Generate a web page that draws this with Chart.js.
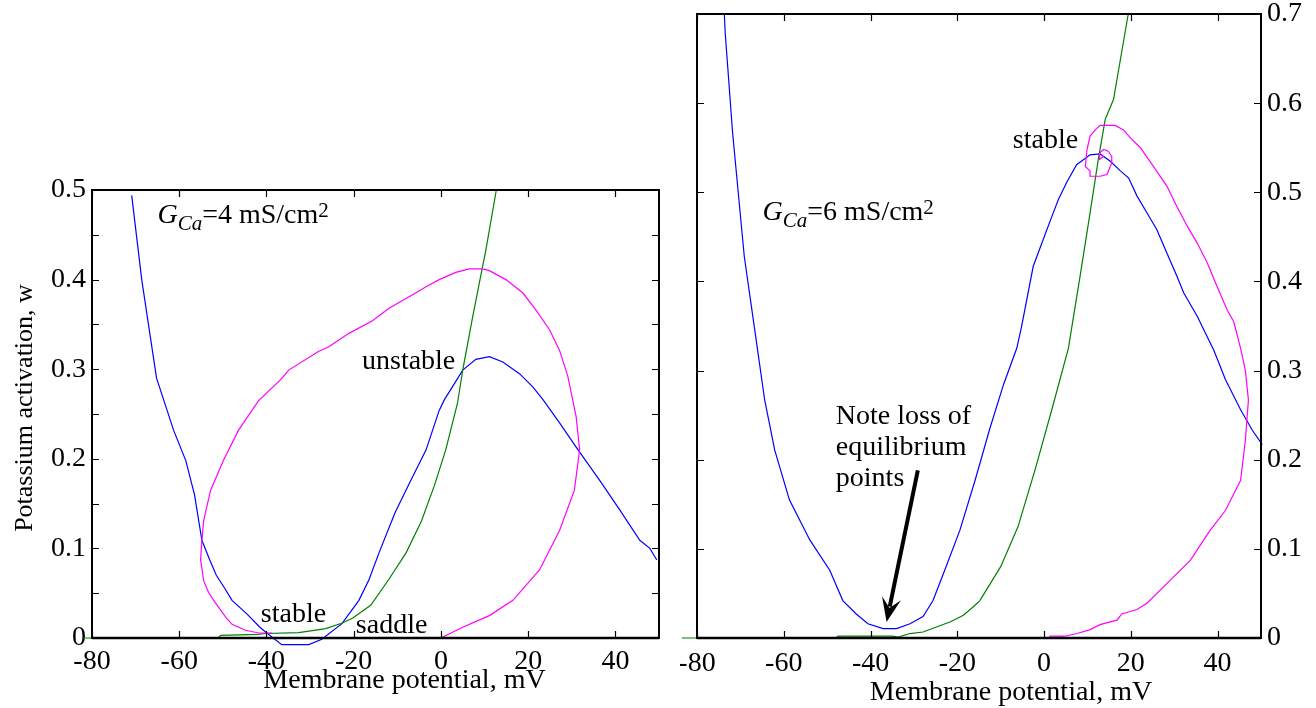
<!DOCTYPE html>
<html>
<head>
<meta charset="utf-8">
<script src="https://cdn.jsdelivr.net/npm/chart.js@4.4.0/dist/chart.umd.min.js"></script>
<style>
  body { margin: 0; background: #fff; width: 1316px; height: 708px; overflow: hidden; position: relative; }
  #leftBox { position: absolute; left: 0; top: 0; width: 670px; height: 708px; }
  #rightBox { position: absolute; left: 680px; top: 0; width: 636px; height: 708px; }
</style>
</head>
<body>
<div id="leftBox"><canvas id="leftChart"></canvas></div>
<div id="rightBox"><canvas id="rightChart"></canvas></div>
<script>
// ---- G_Ca = 4 mS/cm2 (left panel) ----
// V-nullcline (blue)
const vNull4V = [-70.9, -68.6, -65.2, -61.3, -58.5, -56.5, -54.8, -53, -51.5, -49.5, -47.9, -44.5, -41.5, -40.2, -36.5, -30.3, -27.3, -22.7, -18.8, -16.5, -14.2, -10.5, -7.0, -3.4, -0.4, 0.8, 2.6, 5.0, 8.0, 11.1, 14.2, 18.0, 21.1, 23.4, 27.2, 31.0, 36.4, 41.0, 45.6, 47.9, 49.5];
const vNull4W = [0.494, 0.40, 0.29, 0.232, 0.198, 0.16, 0.109, 0.087, 0.07, 0.055, 0.042, 0.027, 0.012, 0.0067, -0.0074, -0.0074, -0.0015, 0.016, 0.042, 0.065, 0.095, 0.14, 0.175, 0.21, 0.254, 0.266, 0.28, 0.299, 0.311, 0.314, 0.308, 0.295, 0.28, 0.266, 0.24, 0.213, 0.176, 0.143, 0.109, 0.1, 0.087];
// w-nullcline (green)
const wNull4V = [-82, -51, -50.5, -42, -40.2, -32.6, -26.4, -22.6, -20.3, -16.1, -12, -8, -4.5, -1.5, 1.1, 3.8, 5.0, 7.3, 8.8, 10.3, 12.7];
const wNull4W = [0, 0, 0.003, 0.004, 0.005, 0.006, 0.0105, 0.0168, 0.022, 0.0365, 0.065, 0.095, 0.13, 0.17, 0.21, 0.262, 0.299, 0.359, 0.396, 0.433, 0.5];
// trajectory (magenta)
const traj4V = [0, 5, 11.1, 16.5, 22.6, 27.2, 30.6, 31.8, 31, 29.1, 27.2, 24.9, 21.8, 18.8, 14.9, 11.1, 9.6, 6.5, 3.4, -0.4, -3.4, -6.5, -11.9, -15.7, -21.1, -25.7, -28, -34.9, -36.8, -41.8, -46.4, -49.8, -52.8, -54.4, -54.9, -55.1, -54.4, -53.3, -52.1, -49.4, -47.9, -44.8, -41.8, -38.7];
const traj4W = [0, 0.012, 0.025, 0.042, 0.076, 0.12, 0.165, 0.21, 0.247, 0.292, 0.321, 0.344, 0.366, 0.385, 0.4, 0.41, 0.412, 0.412, 0.408, 0.4, 0.392, 0.383, 0.368, 0.354, 0.34, 0.325, 0.32, 0.299, 0.288, 0.265, 0.232, 0.199, 0.165, 0.131, 0.103, 0.087, 0.064, 0.051, 0.042, 0.0235, 0.0153, 0.0086, 0.0056, 0.0056];

// ---- G_Ca = 6 mS/cm2 (right panel) ----
const vNull6V = [-73.7, -73.5, -71.8, -69.1, -66.7, -64.4, -62.1, -58.7, -54, -49.4, -46.4, -43.3, -40.6, -37.1, -34, -30.9, -27.9, -25.6, -22.9, -19.4, -15.9, -12.5, -9.3, -6.3, -5.2, -2.5, -0.2, 1.8, 3.3, 5.2, 7.5, 10.6, 12.9, 15.2, 17.6, 19.5, 21.4, 23.7, 26, 28.3, 30.6, 32.2, 35.3, 37.6, 39.1, 41.8, 45.3, 48, 50.3];
const vNull6W = [0.70, 0.679, 0.567, 0.428, 0.346, 0.267, 0.211, 0.155, 0.11, 0.076, 0.042, 0.027, 0.016, 0.0105, 0.0105, 0.016, 0.024, 0.042, 0.076, 0.121, 0.177, 0.235, 0.285, 0.325, 0.349, 0.417, 0.447, 0.473, 0.492, 0.511, 0.531, 0.542, 0.543, 0.535, 0.524, 0.516, 0.496, 0.477, 0.458, 0.432, 0.406, 0.387, 0.361, 0.338, 0.323, 0.29, 0.256, 0.233, 0.217];
const wNull6V = [-83.5, -48, -47.5, -35, -33.6, -30.9, -27.9, -24.8, -21.7, -18.6, -16.3, -14.8, -10, -6, -2, 2, 5.6, 8.3, 10.6, 12.5, 14.1, 16, 19.4];
const wNull6W = [0, 0, 0.002, 0.002, 0.001, 0.005, 0.0067, 0.0124, 0.018, 0.0255, 0.035, 0.042, 0.08, 0.125, 0.19, 0.26, 0.325, 0.406, 0.477, 0.537, 0.582, 0.604, 0.7];
const traj6V = [1.2, 4.8, 7.6, 10.6, 12.9, 16.8, 17.9, 21.4, 23.7, 29.1, 33.7, 38.3, 41.8, 45.3, 46.4, 47.1, 46.4, 45.3, 43.7, 42.2, 39.9, 37.6, 35.3, 33, 30.6, 28.3, 25.2, 22.2, 19.9, 18.3, 16.4, 12.9, 11.8, 10.6, 9.9, 9.5, 10.6, 10.6, 12.9, 14.5, 15.6, 15.6, 14.8, 13.7, 12.8, 12.8, 13.7, 13.2];
const traj6W = [0.002, 0.002, 0.005, 0.0094, 0.015, 0.02, 0.027, 0.032, 0.039, 0.065, 0.087, 0.121, 0.143, 0.177, 0.222, 0.267, 0.3, 0.325, 0.355, 0.368, 0.394, 0.421, 0.443, 0.462, 0.484, 0.507, 0.529, 0.55, 0.561, 0.57, 0.575, 0.575, 0.57, 0.563, 0.548, 0.529, 0.524, 0.518, 0.518, 0.52, 0.533, 0.54, 0.546, 0.548, 0.544, 0.537, 0.54, 0.542];

// ticks
const xTickValues = [-80, -60, -40, -20, 0, 20, 40];
const yTicks4 = [0, 0.05, 0.1, 0.15, 0.2, 0.25, 0.3, 0.35, 0.4, 0.45, 0.5];
const yTicks6 = [0, 0.1, 0.2, 0.3, 0.4, 0.5, 0.6, 0.7];

const SERIF = '"Liberation Serif", "Times New Roman", serif';
const BLUE = '#0000ff', GREEN = '#008000', MAGENTA = '#ff00ff';

function pts(xs, ys) {
  return xs.map((v, i) => ({ x: v, y: ys[i] }));
}

function curve(xs, ys, color) {
  return {
    data: pts(xs, ys),
    showLine: true,
    borderColor: color,
    backgroundColor: color,
    borderWidth: 1.2,
    pointRadius: 0,
    clip: false,
  };
}

// frame, inward ticks, labels and the arrow
const decor = {
  id: 'decor',
  afterDatasetsDraw(chart, args, o) {
    const ctx = chart.ctx, a = chart.chartArea;
    const sx = chart.scales.x, sy = chart.scales.y;
    ctx.save();
    ctx.strokeStyle = '#000';
    ctx.lineWidth = 2;
    ctx.strokeRect(a.left, a.top, a.right - a.left, a.bottom - a.top);
    ctx.lineWidth = 2.6;
    ctx.beginPath();
    ctx.moveTo(a.left, a.bottom);
    ctx.lineTo(a.right, a.bottom);
    ctx.stroke();

    ctx.lineWidth = 1.2;
    ctx.beginPath();
    o.xTicks.forEach(v => {
      const px = Math.round(sx.getPixelForValue(v)) + 0.5;
      ctx.moveTo(px, a.bottom); ctx.lineTo(px, a.bottom - 7);
      ctx.moveTo(px, a.top); ctx.lineTo(px, a.top + 7);
    });
    o.yTicks.forEach(v => {
      const py = Math.round(sy.getPixelForValue(v)) + 0.5;
      ctx.moveTo(a.left, py); ctx.lineTo(a.left + 7, py);
      ctx.moveTo(a.right, py); ctx.lineTo(a.right - 7, py);
    });
    ctx.stroke();

    ctx.fillStyle = '#000';
    ctx.textBaseline = 'alphabetic';
    ctx.textAlign = 'left';
    ctx.font = '28px ' + SERIF;
    (o.notes || []).forEach(n => {
      const x0 = sx.getPixelForValue(n.x), y0 = sy.getPixelForValue(n.y);
      n.text.split('\n').forEach((line, i) => ctx.fillText(line, x0, y0 + i * 31));
    });

    // G_Ca = n mS/cm2
    const g = o.gLabel;
    let gx = sx.getPixelForValue(g.x);
    const gy = sy.getPixelForValue(g.y);
    const parts = [
      { t: 'G', f: 'italic 28px ', dy: 0 },
      { t: 'Ca', f: 'italic 21px ', dy: 7 },
      { t: '=' + g.value + ' mS/cm', f: '28px ', dy: 0 },
      { t: '2', f: '21px ', dy: -6 },
    ];
    parts.forEach(p => {
      ctx.font = p.f + SERIF;
      ctx.fillText(p.t, gx, gy + p.dy);
      gx += ctx.measureText(p.t).width;
    });

    if (o.arrow) {
      const x1 = sx.getPixelForValue(o.arrow.from[0]), y1 = sy.getPixelForValue(o.arrow.from[1]);
      const x2 = sx.getPixelForValue(o.arrow.to[0]), y2 = sy.getPixelForValue(o.arrow.to[1]);
      const ang = Math.atan2(y2 - y1, x2 - x1);
      const head = 26;
      ctx.lineWidth = 4;
      ctx.beginPath();
      ctx.moveTo(x1, y1);
      ctx.lineTo(x2 - Math.cos(ang) * head * 0.6, y2 - Math.sin(ang) * head * 0.6);
      ctx.stroke();
      ctx.beginPath();
      ctx.moveTo(x2, y2);
      ctx.lineTo(x2 - head * Math.cos(ang - 0.38), y2 - head * Math.sin(ang - 0.38));
      ctx.lineTo(x2 - head * 0.55 * Math.cos(ang), y2 - head * 0.55 * Math.sin(ang));
      ctx.lineTo(x2 - head * Math.cos(ang + 0.38), y2 - head * Math.sin(ang + 0.38));
      ctx.closePath();
      ctx.fill();
    }

    // axis titles
    ctx.font = '28px ' + SERIF;
    ctx.textAlign = 'center';
    ctx.fillText('Membrane potential, mV', (a.left + a.right) / 2 + o.xTitle.dx, a.bottom + o.xTitle.dy);
    if (o.yTitle) {
      ctx.font = '26px ' + SERIF;
      ctx.translate(32, (a.top + a.bottom) / 2 - 6);
      ctx.rotate(-Math.PI / 2);
      ctx.fillText('Potassium activation, w', 0, 0);
    }
    ctx.restore();
  }
};

function makeOptions(cfg) {
  return {
    responsive: true,
    maintainAspectRatio: false,
    animation: false,
    layout: { padding: cfg.padding },
    plugins: {
      legend: { display: false },
      tooltip: { enabled: false },
      decor: cfg.decor,
    },
    scales: {
      x: {
        type: 'linear',
        min: -80,
        max: 50,
        grid: { display: false, drawTicks: false },
        border: { display: false },
        ticks: {
          stepSize: 20,
          includeBounds: false,
          padding: cfg.xPad,
          color: '#000',
          font: { family: SERIF, size: 28 },
        },
        afterFit: s => { s.height = 70; s.paddingLeft = 0; s.paddingRight = 0; },
      },
      y: {
        type: 'linear',
        position: cfg.yPos,
        min: 0,
        max: cfg.yMax,
        grid: { display: false, drawTicks: false },
        border: { display: false },
        ticks: {
          stepSize: 0.1,
          padding: 6,
          color: '#000',
          font: { family: SERIF, size: 28 },
        },
        afterFit: s => { s.width = cfg.yWidth; s.paddingTop = 0; s.paddingBottom = 0; },
      },
    },
  };
}

new Chart(document.getElementById('leftChart'), {
  type: 'scatter',
  data: {
    datasets: [
      curve(traj4V, traj4W, MAGENTA),
      curve(wNull4V, wNull4W, GREEN),
      curve(vNull4V, vNull4W, BLUE),
    ],
  },
  options: makeOptions({
    padding: { top: 190, right: 11, left: 0, bottom: 0 },
    yPos: 'left',
    yMax: 0.5,
    yWidth: 92,
    xPad: 7,
    decor: {
      xTicks: xTickValues,
      yTicks: yTicks4,
      notes: [
        { text: 'unstable', x: -18.1, y: 0.30 },
        { text: 'stable', x: -41.3, y: 0.0175 },
        { text: 'saddle', x: -19.5, y: 0.0053 },
      ],
      gLabel: { value: 4, x: -65, y: 0.463 },
      xTitle: { dx: 29, dy: 50 },
      yTitle: true,
    },
  }),
  plugins: [decor],
});

new Chart(document.getElementById('rightChart'), {
  type: 'scatter',
  data: {
    datasets: [
      curve(traj6V, traj6W, MAGENTA),
      curve(wNull6V, wNull6W, GREEN),
      curve(vNull6V, vNull6W, BLUE),
    ],
  },
  options: makeOptions({
    padding: { top: 14, right: 0, left: 17, bottom: 0 },
    yPos: 'right',
    yMax: 0.7,
    yWidth: 55,
    xPad: 9,
    decor: {
      xTicks: xTickValues,
      yTicks: yTicks6,
      notes: [
        { text: 'stable', x: -7.2, y: 0.55 },
        { text: 'Note loss of\nequilibrium\npoints', x: -48, y: 0.24 },
      ],
      gLabel: { value: 6, x: -64.9, y: 0.469 },
      arrow: { from: [-29.1, 0.188], to: [-36.3, 0.018] },
      xTitle: { dx: 32, dy: 62 },
      yTitle: false,
    },
  }),
  plugins: [decor],
});
</script>
</body>
</html>
